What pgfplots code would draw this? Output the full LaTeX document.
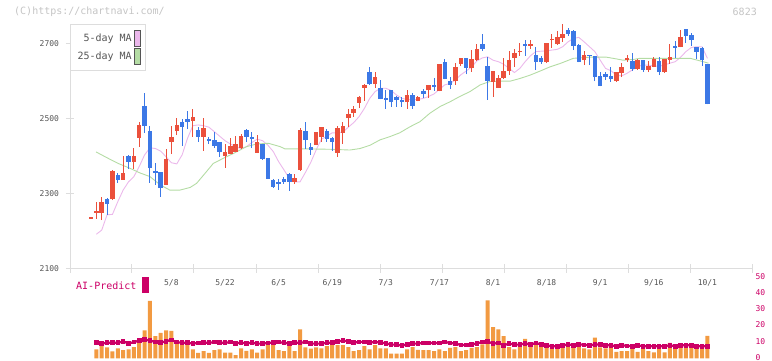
\documentclass[border=0pt]{standalone}
\usepackage{fontspec}
\setmainfont{DejaVu Sans Mono}
\usepackage{pgfplots}
\pgfplotsset{compat=1.18}
\usepackage{pgfplotstable}

\definecolor{cup}{HTML}{EB503C}
\definecolor{cdn}{HTML}{3C78E6}
\definecolor{maf}{HTML}{EBB8EB}
\definecolor{mas}{HTML}{B4DCA4}
\definecolor{vol}{HTML}{F29A41}
\definecolor{ai}{HTML}{CC0066}
\definecolor{axg}{HTML}{DDDDDD}
\definecolor{txt}{HTML}{555555}
\definecolor{wm}{HTML}{C4C4C4}

% up (red) candles
\pgfplotstableread{
i O H L C
0 2233 2236 2233 2236
1 2249 2277 2233 2253
2 2249 2290 2229 2277
4 2284 2362 2282 2360
6 2337 2400 2336 2355
8 2385 2421 2365 2400
9 2449 2491 2425 2483
14 2323 2419 2322 2393
15 2438 2481 2405 2452
16 2467 2502 2456 2483
19 2494 2526 2452 2504
21 2452 2502 2414 2475
25 2400 2432 2369 2412
26 2406 2448 2405 2427
27 2412 2453 2411 2432
28 2421 2459 2420 2453
31 2409 2456 2408 2438
38 2331 2352 2326 2341
39 2363 2475 2360 2470
42 2430 2465 2429 2464
43 2451 2478 2438 2477
46 2409 2480 2398 2475
47 2462 2491 2433 2480
48 2501 2526 2477 2512
49 2516 2534 2505 2526
50 2542 2560 2528 2558
51 2583 2593 2547 2590
53 2592 2624 2582 2611
59 2544 2576 2526 2563
61 2547 2560 2546 2558
63 2576 2591 2555 2590
65 2574 2647 2573 2646
68 2600 2648 2590 2638
69 2646 2663 2640 2662
71 2636 2684 2625 2659
72 2657 2700 2654 2686
75 2599 2628 2558 2627
76 2583 2616 2582 2608
77 2608 2662 2607 2627
78 2627 2680 2616 2656
79 2662 2686 2638 2675
80 2679 2702 2668 2681
82 2694 2710 2686 2699
85 2651 2703 2648 2702
86 2710 2726 2689 2713
87 2699 2734 2697 2718
88 2715 2753 2705 2726
92 2656 2681 2643 2670
98 2600 2625 2598 2624
99 2622 2648 2611 2638
100 2656 2670 2651 2662
102 2632 2659 2631 2656
104 2630 2654 2624 2640
105 2638 2664 2637 2659
107 2624 2660 2623 2659
108 2656 2699 2646 2664
110 2691 2737 2690 2718
}\up

% down (blue) candles
\pgfplotstableread{
i O H L C
3 2286 2288 2243 2273
5 2349 2355 2329 2337
7 2400 2402 2365 2385
10 2534 2568 2461 2481
11 2467 2480 2329 2369
12 2360 2381 2323 2355
13 2357 2358 2291 2315
17 2491 2500 2428 2478
18 2499 2520 2472 2491
20 2470 2478 2438 2452
22 2446 2452 2432 2441
23 2443 2464 2421 2428
24 2437 2438 2398 2412
29 2470 2471 2437 2452
30 2451 2464 2421 2445
32 2432 2433 2390 2393
33 2395 2396 2338 2339
34 2336 2339 2315 2318
35 2331 2339 2310 2325
36 2339 2344 2326 2331
37 2352 2355 2307 2331
40 2467 2491 2420 2443
41 2424 2435 2404 2417
44 2468 2473 2438 2446
45 2449 2450 2414 2438
52 2624 2638 2591 2592
54 2582 2603 2551 2552
55 2554 2576 2526 2550
56 2576 2577 2531 2544
57 2558 2560 2531 2550
58 2550 2558 2531 2544
60 2563 2568 2526 2534
62 2574 2579 2555 2566
64 2590 2608 2574 2584
66 2651 2659 2605 2606
67 2600 2611 2579 2590
70 2662 2663 2618 2636
73 2699 2726 2681 2686
74 2640 2665 2550 2601
81 2699 2710 2668 2694
83 2670 2691 2630 2652
84 2663 2667 2646 2652
89 2737 2742 2721 2726
90 2734 2737 2683 2694
91 2697 2698 2650 2651
93 2670 2671 2643 2667
94 2667 2668 2600 2611
95 2614 2624 2586 2587
96 2619 2624 2603 2611
97 2614 2638 2598 2606
101 2654 2675 2627 2632
103 2656 2657 2624 2630
106 2654 2664 2616 2624
109 2694 2707 2662 2689
111 2739 2740 2702 2721
112 2723 2729 2694 2710
113 2691 2692 2659 2678
114 2689 2690 2640 2656
115 2646 2647 2538 2539
}\dn

% 5-day moving average
\pgfplotstableread{
i v
1 2191
2 2202
3 2243
4 2244
5 2278
6 2309
7 2331
8 2345
9 2372
10 2403
11 2422
12 2420
13 2413
14 2398
15 2382
16 2379
17 2403
18 2447
19 2481
20 2483
21 2481
22 2477
23 2465
24 2453
25 2441
26 2432
27 2425
28 2420
29 2425
30 2436
31 2445
32 2441
33 2429
34 2412
35 2385
36 2363
37 2340
38 2331
39 2331
40 2356
41 2383
42 2416
43 2445
44 2453
45 2462
46 2462
47 2464
48 2477
49 2489
50 2505
51 2527
52 2554
53 2572
54 2581
55 2581
56 2575
57 2563
58 2554
59 2551
60 2551
61 2551
62 2554
63 2559
64 2566
65 2578
66 2590
67 2594
68 2603
69 2617
70 2627
71 2638
72 2654
73 2662
74 2665
75 2656
76 2652
77 2645
78 2634
79 2623
80 2634
81 2652
82 2668
83 2679
84 2680
85 2681
86 2683
87 2685
88 2692
89 2705
90 2714
91 2717
92 2705
93 2692
94 2679
95 2656
96 2634
97 2628
98 2616
99 2614
100 2621
101 2630
102 2639
103 2643
104 2643
105 2640
106 2640
107 2643
108 2648
109 2652
110 2664
111 2679
112 2690
113 2692
114 2692
115 2661
}\maf

% 25-day moving average
\pgfplotstableread{
i v
0.93 2411
2.9 2396
5.1 2380
7.3 2367
9.1 2355
11.0 2345
12.9 2323
14.7 2309
16.6 2309
18.5 2316
19.7 2327
21.0 2349
22.8 2380
24.7 2394
26.6 2407
29.0 2425
30.9 2432
33.1 2434
35.3 2425
36.2 2419
37.7 2419
40.2 2419
44.6 2418
48.3 2416
50.2 2420
52.1 2429
53.9 2443
55.8 2452
57.6 2462
59.5 2478
61.4 2492
63.2 2514
65.1 2532
67.0 2545
68.8 2559
70.7 2572
72.6 2590
74.4 2599
76.3 2600
78.2 2600
80.0 2607
81.9 2616
83.8 2627
85.6 2638
87.5 2647
90.0 2661
93.1 2664
96.2 2664
97.4 2661
99.3 2656
101.2 2658
102.4 2661
105.5 2661
108.6 2661
111.8 2661
114.2 2652
115.2 2648
}\mas

% volume
\pgfplotstableread{
i v
1 5.6
2 8.5
3 6.8
4 4.3
5 6.2
6 5.0
7 5.6
8 7.0
9 9.5
10 17.4
11 35.6
12 13.7
13 15.7
14 17.4
15 17.0
16 9.5
17 9.5
18 9.1
19 5.6
20 3.4
21 4.4
22 3.4
23 5.0
24 5.6
25 3.5
26 3.5
27 1.9
28 6.2
29 4.6
30 5.6
31 3.5
32 5.6
33 8.1
34 8.9
35 5.0
36 4.4
37 7.5
38 4.4
39 18.0
40 6.8
41 6.0
42 6.8
43 6.2
44 7.5
45 8.7
46 8.1
47 8.1
48 7.0
49 4.4
50 5.0
51 7.5
52 5.6
53 8.1
54 6.2
55 6.2
56 2.9
57 2.9
58 2.9
59 5.6
60 7.0
61 5.3
62 5.0
63 5.0
64 4.4
65 5.6
66 4.4
67 6.4
68 7.0
69 4.4
70 5.0
71 6.4
72 7.0
73 8.7
74 36.0
75 19.3
76 18.0
77 13.7
78 7.0
79 5.6
80 7.5
81 12.0
82 8.1
83 8.7
84 8.1
85 7.5
86 7.5
87 6.4
88 7.0
89 7.0
90 7.0
91 8.1
92 6.2
93 5.6
94 12.8
95 6.8
96 6.2
97 7.5
98 4.0
99 4.4
100 4.4
101 7.5
102 4.0
103 6.8
104 4.4
105 3.7
106 6.4
107 3.7
108 9.5
109 6.4
110 7.5
111 7.5
112 6.4
113 6.4
114 6.4
115 13.9
}\vol

% AI-Predict
\pgfplotstableread{
i v
1 9.7
2 9.1
3 9.7
4 9.7
5 9.7
6 10.4
7 9.3
8 10.0
9 11.0
10 11.6
11 11.0
12 10.2
13 9.7
14 10.6
15 11.4
16 10.0
17 9.7
18 9.7
19 9.1
20 9.5
21 9.7
22 9.7
23 10.0
24 9.7
25 9.7
26 10.0
27 9.3
28 9.7
29 9.3
30 9.7
31 9.1
32 9.1
33 9.5
34 9.7
35 10.0
36 9.7
37 9.1
38 9.7
39 9.7
40 10.0
41 9.1
42 9.1
43 9.1
44 9.7
45 9.7
46 10.4
47 11.0
48 10.4
49 9.7
50 10.2
51 10.2
52 9.7
53 10.2
54 9.7
55 9.3
56 8.5
57 8.5
58 7.9
59 8.7
60 9.1
61 9.1
62 9.5
63 9.5
64 9.5
65 9.5
66 10.2
67 9.5
68 9.1
69 8.3
70 8.3
71 8.5
72 9.3
73 10.0
74 10.4
75 9.1
76 9.5
77 8.1
78 9.1
79 8.5
80 8.5
81 9.3
82 8.5
83 9.5
84 8.5
85 8.1
86 7.5
87 7.5
88 7.9
89 8.7
90 8.1
91 8.7
92 8.3
93 8.1
94 8.5
95 8.7
96 8.1
97 8.1
98 7.5
99 8.1
100 7.7
101 7.5
102 8.1
103 7.5
104 7.5
105 7.5
106 7.5
107 7.5
108 8.1
109 7.5
110 8.1
111 8.1
112 8.1
113 7.5
114 7.5
115 7.5
}\aip

\pgfplotsset{
  candle/.style n args={2}{forget plot, draw=none, mark=none,
    error bars/.cd, y dir=plus, y explicit, error mark=none,
    error bar style={draw=#1, line width=#2, solid}},
}

\begin{document}
\begin{tikzpicture}
\path[use as bounding box] (0pt,0pt) rectangle (772pt,-361pt);

\begin{axis}[
  at={(70pt,-268.3pt)}, anchor=south west,
  scale only axis, width=682pt, height=244.3pt,
  xmin=-3.918, xmax=123.321, ymin=2100, ymax=2752.7,
  clip=false,
  axis x line*=bottom, axis y line*=left,
  axis line style={draw=axg, line width=1pt, -},
  tick align=center, major tick length=9pt,
  tick style={draw=axg, line width=1pt},
  xtick={-3.918,7.649,19.216,30.784,42.351,53.918,65.485,77.052,88.619,100.187,111.754,123.321},
  xticklabels={},
  extra x ticks={15,25,35,45,55,65,75,85,95,105,115},
  extra x tick labels={5/8,5/22,6/5,6/19,7/3,7/17,8/1,8/18,9/1,9/16,10/1},
  extra x tick style={major tick length=0pt,
     xticklabel style={anchor=center, yshift=-14.7pt, font=\fontsize{8}{9}\selectfont, text=txt}},
  ytick={2100,2300,2500,2700},
  yticklabels={2100,2300,2500,2700},
  yticklabel style={font=\fontsize{8}{9}\selectfont, text=txt, xshift=-3pt},
  legend plot pos=right,
  legend cell align=right,
  legend style={at={(0,1)}, anchor=north west, draw=axg, line width=1pt, fill=white,
     font=\fontsize{10}{12}\selectfont, text=txt, inner xsep=5pt, inner ysep=6pt,
     row sep=2pt, /tikz/every even column/.append style={column sep=7pt}},
]
\addplot[maf, line width=0.9pt,
  legend image code/.code={\draw[fill=maf, draw=txt, line width=0.7pt] (0pt,-7.6pt) rectangle (6.4pt,7.6pt);}]
  table[x=i, y=v] {\maf};
\addlegendentry{5-day MA}
\addplot[mas, line width=0.9pt,
  legend image code/.code={\draw[fill=mas, draw=txt, line width=0.7pt] (0pt,-7.6pt) rectangle (6.4pt,7.6pt);}]
  table[x=i, y=v] {\mas};
\addlegendentry{25-day MA}

% wicks
\addplot[candle={cup}{1pt}] table[x=i, y=L, y error plus expr=\thisrow{H}-\thisrow{L}] {\up};
\addplot[candle={cdn}{1pt}] table[x=i, y=L, y error plus expr=\thisrow{H}-\thisrow{L}] {\dn};
% bodies
\addplot[candle={cup}{4.5pt}] table[x=i, y=O, y error plus expr=\thisrow{C}-\thisrow{O}] {\up};
\addplot[candle={cdn}{4.5pt}] table[x=i, y=C, y error plus expr=\thisrow{O}-\thisrow{C}] {\dn};
\end{axis}

\begin{axis}[
  at={(70pt,-358.3pt)}, anchor=south west,
  scale only axis, width=682pt, height=80.6pt,
  xmin=-3.918, xmax=123.321, ymin=0, ymax=50,
  clip=false,
  axis x line=none, axis y line*=right,
  axis line style={draw=none},
  xtick=\empty,
  ytick={0,10,20,30,40,50},
  yticklabels={0,10,20,30,40,50},
  ytick style={draw=none},
  yticklabel style={font=\fontsize{8}{9}\selectfont, text=ai, anchor=west, yshift=1pt},
]
\addplot[ybar, bar width=4pt, bar shift=0pt, fill=vol, draw=none] table[x=i, y=v] {\vol};
\addplot[ai, line width=2.2pt, mark=square*, mark size=1.2pt] table[x=i, y=v] {\aip};
\end{axis}

\node[anchor=west, text=wm, font=\fontsize{10}{12}\selectfont, inner sep=0pt] at (14pt,-12pt) {(C)https://chartnavi.com/};
\node[anchor=east, text=wm, font=\fontsize{10}{12}\selectfont, inner sep=0pt] at (757pt,-12.3pt) {6823};
\node[anchor=west, text=ai, font=\fontsize{10}{12}\selectfont, inner sep=0pt] at (76pt,-286pt) {AI-Predict};
\fill[ai] (142pt,-277pt) rectangle (149pt,-293pt);
\end{tikzpicture}
\end{document}
